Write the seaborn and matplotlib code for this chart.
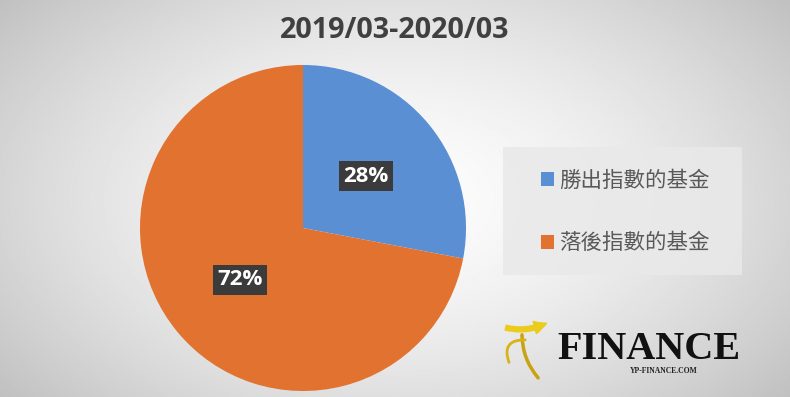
"""
Pie chart: funds beating vs lagging the index, 2019/03-2020/03
"""
import numpy as np
import matplotlib
matplotlib.use('Agg')
import matplotlib.pyplot as plt
from matplotlib.patches import Patch, Rectangle, FancyArrowPatch
import seaborn as sns

# ─── Data ────────────────────────────────────────────────────────────────────
TITLE = '2019/03-2020/03'
CATEGORIES = ['勝出指數的基金', '落後指數的基金']
SHARES = [28, 72]
COLORS = ['#5B8FD4', '#E1722F']

sns.set_theme(style='white')
plt.rcParams['font.family'] = ['Open Sans', 'Noto Sans CJK TC', 'DejaVu Sans']

fig = plt.figure(figsize=(7.9, 3.97), dpi=100)

# ─── Radial gradient background ─────────────────────────────────────────────
bg = fig.add_axes([0, 0, 1, 1], zorder=0)
yy, xx = np.mgrid[0:1:400j, 0:1:800j]
rr = np.sqrt(((xx - 0.5) / 0.62) ** 2 + ((yy - 0.5) / 0.75) ** 2)
shade = 0.99 - 0.22 * np.clip(rr, 0, 1.2) ** 1.6
bg.imshow(shade, cmap='gray', vmin=0, vmax=1, aspect='auto', extent=[0, 1, 0, 1])
bg.set_axis_off()

# ─── Pie ────────────────────────────────────────────────────────────────────
ax = fig.add_axes([0.1772, 0.0151, 0.4127, 0.8212], zorder=1)
wedges, texts, autotexts = ax.pie(
    SHARES, colors=sns.color_palette(COLORS), startangle=90, counterclock=False,
    autopct='%d%%', pctdistance=0.5, wedgeprops=dict(linewidth=0),
    textprops=dict(color='white', fontsize=16, fontweight='bold'))
for t in autotexts:
    t.set_bbox(dict(boxstyle='square,pad=0.2', facecolor='#3B3B3B',
                    edgecolor='none'))
ax.set_xlim(-1, 1)
ax.set_ylim(-1, 1)
ax.set_aspect('equal')
ax.set_axis_off()

fig.text(0.5, 0.922, TITLE, ha='center', va='center', fontsize=20.7,
         fontweight='bold', color='#404040')

# ─── Legend ─────────────────────────────────────────────────────────────────
fig.add_artist(Rectangle((503 / 790, 1 - 275 / 397), 239 / 790, 128 / 397,
                         transform=fig.transFigure, facecolor='#E9E9E9',
                         edgecolor='none', alpha=0.85, zorder=1))
handles = [Patch(facecolor=c, edgecolor='none', label=l)
           for c, l in zip(COLORS, CATEGORIES)]
leg = fig.legend(handles=handles, loc='center left',
                 bbox_to_anchor=(541 / 790, 1 - 212 / 397), frameon=False,
                 prop=dict(family=['Noto Sans CJK TC', 'DejaVu Sans'], size=15.5),
                 labelcolor='#595959', handlelength=0.62, handleheight=0.62,
                 handletextpad=0.2, labelspacing=1.88, borderpad=0,
                 borderaxespad=0)
leg.set_zorder(2)

# ─── Logo ───────────────────────────────────────────────────────────────────
fig.text(0.822, 0.12, 'FINANCE', ha='center', va='center', fontsize=29,
         family='Liberation Serif', fontweight='bold', color='#111111')
fig.text(0.84, 0.065, 'YP-FINANCE.COM', ha='center', va='center', fontsize=5.5,
         family='Liberation Serif', fontweight='bold', color='#222222')
fig.add_artist(FancyArrowPatch(
    (503 / 790, 1 - 327 / 397), (549 / 790, 1 - 322 / 397), transform=fig.transFigure,
    connectionstyle='arc3,rad=0.2',
    arrowstyle='simple,head_width=9,head_length=9,tail_width=3.5',
    color='#EBCB1C', zorder=3))
fig.add_artist(FancyArrowPatch(
    (522 / 790, 1 - 332 / 397), (540 / 790, 1 - 380 / 397), transform=fig.transFigure,
    connectionstyle='arc3,rad=0.2', arrowstyle='-', linewidth=2.5,
    color='#C9A214', zorder=3))
fig.add_artist(FancyArrowPatch(
    (528 / 790, 1 - 340 / 397), (510 / 790, 1 - 365 / 397), transform=fig.transFigure,
    connectionstyle='arc3,rad=0.8', arrowstyle='-', linewidth=2,
    color='#D8B318', zorder=3))

plt.savefig('out.png', dpi=100)
plt.close()
